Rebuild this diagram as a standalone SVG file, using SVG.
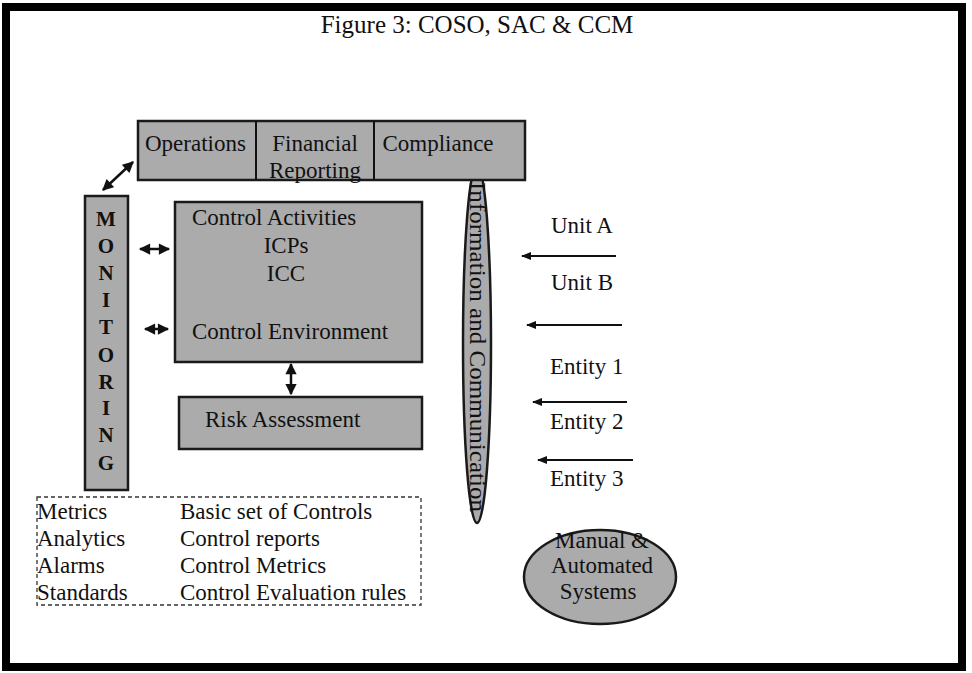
<svg xmlns="http://www.w3.org/2000/svg" width="972" height="673" viewBox="0 0 972 673">
<style>
text{font-family:"Liberation Serif","Times New Roman",serif;fill:#111;}
.t{font-size:23px;}
.box{fill:#ababab;stroke:#1a1a1a;stroke-width:2.5;}
.mon{font-size:21px;font-weight:bold;text-anchor:middle;}
.arr{stroke:#111;stroke-width:2.5;fill:none;}
.ln{stroke:#111;stroke-width:2;fill:none;}
</style>
<defs>
<marker id="h" viewBox="0 0 10 10" refX="9" refY="5" markerWidth="5" markerHeight="4.5" orient="auto-start-reverse" markerUnits="strokeWidth">
<path d="M0,0 L10,5 L0,10 Z" fill="#111"/>
</marker>
<marker id="s" viewBox="0 0 10 10" refX="9" refY="5" markerWidth="6" markerHeight="5" orient="auto" markerUnits="strokeWidth">
<path d="M0,1 L10,5 L0,9 Z" fill="#111"/>
</marker>
</defs>
<rect x="0" y="0" width="972" height="673" fill="#fff"/>
<rect id="frame" x="6" y="7" width="956" height="660" fill="none" stroke="#000" stroke-width="8"/>
<text id="title" x="477" y="33" text-anchor="middle" style="font-size:25px">Figure 3: COSO, SAC &amp; CCM</text>

<g id="info">
<ellipse cx="477" cy="344" rx="14" ry="179" class="box"/>
<text class="t" transform="translate(478,347) rotate(90)" text-anchor="middle" dominant-baseline="central" style="font-size:24px" textLength="330" lengthAdjust="spacingAndGlyphs">Information and Communication</text>
</g>

<g id="objectives">
<rect x="138" y="121" width="387" height="59" class="box"/>
<line x1="256" y1="121" x2="256" y2="180" class="ln"/>
<line x1="374" y1="121" x2="374" y2="180" class="ln"/>
<text class="t" x="145" y="151">Operations</text>
<text class="t" x="315" y="151" text-anchor="middle">Financial</text>
<text class="t" x="315" y="178" text-anchor="middle">Reporting</text>
<text class="t" x="438" y="151" text-anchor="middle">Compliance</text>
</g>

<g id="monitoring">
<rect x="85" y="196" width="43" height="294" class="box"/>
<text class="mon" x="106" y="226">M</text>
<text class="mon" x="106" y="253">O</text>
<text class="mon" x="106" y="280">N</text>
<text class="mon" x="106" y="307">I</text>
<text class="mon" x="106" y="334">T</text>
<text class="mon" x="106" y="362">O</text>
<text class="mon" x="106" y="389">R</text>
<text class="mon" x="106" y="415">I</text>
<text class="mon" x="106" y="442">N</text>
<text class="mon" x="106" y="470">G</text>
</g>

<g id="control">
<rect x="175" y="202" width="247" height="160" class="box"/>
<text class="t" x="192" y="225">Control Activities</text>
<text class="t" x="286" y="253" text-anchor="middle">ICPs</text>
<text class="t" x="286" y="281" text-anchor="middle">ICC</text>
<text class="t" x="192" y="339">Control Environment</text>
</g>

<g id="risk">
<rect x="179" y="397" width="243" height="52" class="box"/>
<text class="t" x="205" y="427">Risk Assessment</text>
</g>

<g id="systems">
<ellipse cx="600" cy="577" rx="76" ry="47" class="box"/>
<text class="t" x="602" y="548" text-anchor="middle">Manual &amp;</text>
<text class="t" x="602" y="573" text-anchor="middle">Automated</text>
<text class="t" x="598" y="599" text-anchor="middle">Systems</text>
</g>

<g id="units">
<text class="t" x="551" y="233">Unit A</text>
<text class="t" x="551" y="290">Unit B</text>
<text class="t" x="550" y="374">Entity 1</text>
<text class="t" x="550" y="429">Entity 2</text>
<text class="t" x="550" y="486">Entity 3</text>
</g>

<g id="metrics">
<rect x="37" y="497" width="384" height="108" fill="none" stroke="#333" stroke-width="1.3" stroke-dasharray="4,3"/>
<text class="t" x="37" y="519">Metrics</text>
<text class="t" x="37" y="546">Analytics</text>
<text class="t" x="37" y="573">Alarms</text>
<text class="t" x="37" y="600">Standards</text>
<text class="t" x="180" y="519">Basic set of Controls</text>
<text class="t" x="180" y="546">Control reports</text>
<text class="t" x="180" y="573">Control Metrics</text>
<text class="t" x="180" y="600">Control Evaluation rules</text>
</g>

<g id="connectors">
<line x1="103" y1="190" x2="133" y2="162" class="arr" marker-start="url(#h)" marker-end="url(#h)"/>
<line x1="140" y1="249" x2="169" y2="249" class="arr" marker-start="url(#h)" marker-end="url(#h)"/>
<line x1="145" y1="329" x2="168" y2="329" class="arr" marker-start="url(#h)" marker-end="url(#h)"/>
<line x1="291" y1="364" x2="291" y2="394" class="arr" marker-start="url(#h)" marker-end="url(#h)"/>
<line x1="616" y1="256" x2="522" y2="256" class="ln" marker-end="url(#s)"/>
<line x1="622" y1="325" x2="527" y2="325" class="ln" marker-end="url(#s)"/>
<line x1="627" y1="402" x2="533" y2="402" class="ln" marker-end="url(#s)"/>
<line x1="633" y1="460" x2="538" y2="460" class="ln" marker-end="url(#s)"/>
</g>
</svg>
